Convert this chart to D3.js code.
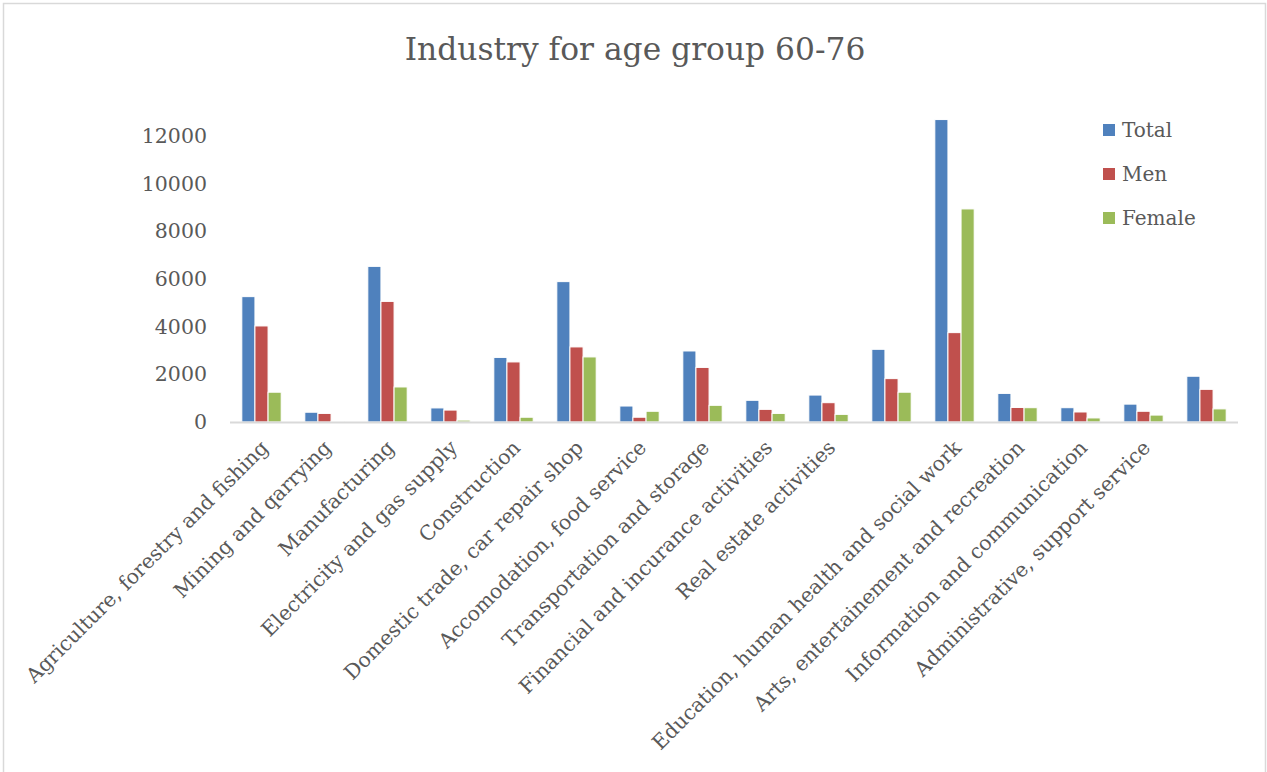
<!DOCTYPE html>
<html>
<head>
<meta charset="utf-8">
<script src="https://cdn.jsdelivr.net/npm/d3@7"></script>
<style>
  html, body { margin: 0; padding: 0; background: #fff; }
  svg { display: block; }
  text { font-family: "DejaVu Serif", serif; fill: #595959; }
</style>
</head>
<body>
<svg id="chart" width="1267" height="772"></svg>
<script>
// ---- data ----
const categories = [
  "Agriculture, forestry and fishing",
  "Mining and qarrying",
  "Manufacturing",
  "Electricity and gas supply",
  "Construction",
  "Domestic trade, car repair shop",
  "Accomodation, food service",
  "Transportation and storage",
  "Financial and incurance activities",
  "Real estate activities",
  "",
  "Education, human health and social work",
  "Arts, entertainement and recreation",
  "Information and communication",
  "Administrative, support service",
  ""
];
const seriesNames = ["Total", "Men", "Female"];
const totalValues  = [5260, 410, 6530, 590, 2710, 5890, 670, 2980, 910, 1130, 3050, 12690, 1200, 600, 750, 1920];
const menValues    = [4030, 360, 5060, 500, 2520, 3150, 200, 2290, 530, 810, 1820, 3750, 610, 420, 450, 1370];
const femaleValues = [1250, 30, 1470, 80, 200, 2730, 450, 700, 360, 320, 1250, 8940, 600, 170, 290, 550];
const yTicks = [0, 2000, 4000, 6000, 8000, 10000, 12000];
const colors = ["#4F81BD", "#C0504D", "#9BBB59"];
const titleText = "Industry for age group 60-76";

const seriesValues = [totalValues, menValues, femaleValues];
const rows = categories.map((c, i) => ({
  idx: i, label: c,
  values: seriesNames.map((s, j) => ({ series: s, value: seriesValues[j][i] }))
}));

const svg = d3.select("#chart");

// outer frame
svg.append("rect")
  .attr("x", 3.5).attr("y", 3.5).attr("width", 1262).attr("height", 800)
  .attr("fill", "none").attr("stroke", "#d9d9d9").attr("stroke-width", 1.5);

const plotLeft = 230, plotRight = 1238, plotBottom = 422;

const x0 = d3.scaleBand()
  .domain(rows.map(r => r.idx))
  .range([plotLeft, plotRight])
  .paddingInner(0.375)
  .paddingOuter(0.1875);

const x1 = d3.scaleBand()
  .domain(seriesNames)
  .range([0, x0.bandwidth()]);

const y = d3.scaleLinear()
  .domain([0, 14000])
  .range([plotBottom, plotBottom - 14000 * (286 / 12000)]);

const color = d3.scaleOrdinal().domain(seriesNames).range(colors);

// title
svg.append("text")
  .attr("x", 635).attr("y", 60)
  .attr("text-anchor", "middle")
  .style("font-size", "31.3px")
  .text(titleText);

// y axis (labels only)
const yAxis = d3.axisLeft(y).tickValues(yTicks).tickSize(0).tickPadding(0).tickFormat(d3.format("d"));
const yg = svg.append("g").attr("transform", `translate(207,0)`).call(yAxis);
yg.select(".domain").remove();
yg.selectAll("text").style("font-size", "20.5px").attr("fill", "#595959")
  .style("font-family", '"DejaVu Serif", serif');

// bars
const groups = svg.append("g").selectAll("g")
  .data(rows).join("g")
  .attr("transform", d => `translate(${x0(d.idx)},0)`);

groups.selectAll("rect")
  .data(d => d.values).join("rect")
  .attr("x", d => x1(d.series))
  .attr("width", x1.bandwidth())
  .attr("y", d => y(d.value))
  .attr("height", d => y(0) - y(d.value))
  .attr("fill", d => color(d.series))
  .attr("stroke", "#fff")
  .attr("stroke-width", 1);

// x axis
const xAxis = d3.axisBottom(x0).tickSize(0).tickPadding(0).tickFormat(i => categories[i]);
const xg = svg.append("g").attr("transform", `translate(0,${plotBottom})`).call(xAxis);
xg.select(".domain").attr("stroke", "#d9d9d9").attr("stroke-width", 2)
  .attr("d", `M${plotLeft},0.5H${plotRight}`);
xg.selectAll("text")
  .style("font-size", "20.3px")
  .attr("fill", "#595959")
  .style("font-family", '"DejaVu Serif", serif')
  .attr("text-anchor", "end")
  .attr("y", 0).attr("dy", 0)
  .attr("transform", "translate(8,27) rotate(-45)");

// legend
const legend = svg.append("g").selectAll("g")
  .data(seriesNames).join("g")
  .attr("transform", (d, i) => `translate(1103,${130 + i * 44})`);
legend.append("rect")
  .attr("x", 0).attr("y", -6).attr("width", 12).attr("height", 12)
  .attr("fill", d => color(d));
legend.append("text")
  .attr("x", 19).attr("y", 0).attr("dy", "0.35em")
  .style("font-size", "20px")
  .text(d => d);
</script>
</body>
</html>
